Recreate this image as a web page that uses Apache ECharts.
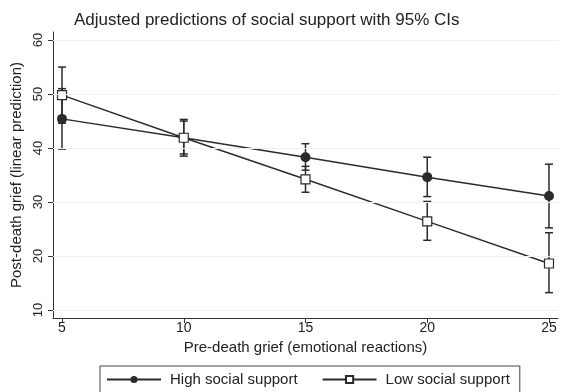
<!DOCTYPE html>
<html><head><meta charset="utf-8">
<script src="https://cdn.jsdelivr.net/npm/echarts@6/dist/echarts.min.js"></script>
<style>html,body{margin:0;padding:0;background:#fff}#c{width:568px;height:392px}</style>
</head><body><div id="c"></div>
<script>
const xValues = [5, 10, 15, 20, 25];
const highMean = [45.4, 41.9, 38.3, 34.6, 31.1];
const highLow  = [39.8, 38.5, 35.9, 31.0, 25.2];
const highUp   = [51.0, 45.3, 40.8, 38.3, 37.0];
const lowMean  = [49.8, 41.9, 34.2, 26.4, 18.6];
const lowLow   = [44.6, 38.9, 31.8, 22.9, 13.2];
const lowUp    = [55.0, 45.0, 36.6, 30.1, 24.3];
const xTicks = [5, 10, 15, 20, 25];
const yTicks = [10, 20, 30, 40, 50, 60];

const font = 'Liberation Sans, Arial, sans-serif';
const ink = '#2b2b2b';

function errData(lo, up) { return xValues.map((x, i) => [x, lo[i], up[i]]); }
function errRender(params, api) {
  const x = api.value(0);
  const p1 = api.coord([x, api.value(1)]);
  const p2 = api.coord([x, api.value(2)]);
  const hw = 4;
  const st = { stroke: ink, lineWidth: 1.5 };
  return { type: 'group', children: [
    { type: 'line', shape: { x1: p1[0], y1: p1[1], x2: p2[0], y2: p2[1] }, style: st },
    { type: 'line', shape: { x1: p1[0]-hw, y1: p1[1], x2: p1[0]+hw, y2: p1[1] }, style: st },
    { type: 'line', shape: { x1: p2[0]-hw, y1: p2[1], x2: p2[0]+hw, y2: p2[1] }, style: st }
  ]};
}

const chart = echarts.init(document.getElementById('c'), null, { renderer: 'canvas' });
chart.setOption({
  animation: false,
  backgroundColor: '#fff',
  textStyle: { fontFamily: font },
  title: {
    text: 'Adjusted predictions of social support with 95% CIs',
    left: 69, top: 7,
    textStyle: { fontFamily: font, fontSize: 17, fontWeight: 'normal', color: '#222' }
  },
  legend: {
    top: 366, left: 100,
    data: ['High social support', 'Low social support'],
    itemWidth: 54, itemHeight: 9, itemGap: 24,
    borderColor: '#444', borderWidth: 1, padding: [6, 10, 8, 6],
    textStyle: { fontFamily: font, fontSize: 15, color: '#222', padding: [0, 0, 0, 4] }
  },
  grid: { left: 53, right: 10, top: 32, bottom: 74 },
  xAxis: {
    type: 'value', min: 4.63, max: 25.37,
    name: 'Pre-death grief (emotional reactions)', nameLocation: 'middle', nameGap: 21,
    nameTextStyle: { fontFamily: font, fontSize: 15, color: '#222' },
    axisLine: { show: true, lineStyle: { color: '#333', width: 1 } },
    axisTick: { show: true, length: 5, lineStyle: { color: '#333' }, customValues: xTicks },
    axisLabel: { customValues: xTicks, fontSize: 14, color: '#222', margin: 3, fontFamily: font },
    splitLine: { show: false }
  },
  yAxis: {
    type: 'value', min: 8.5, max: 61.5,
    name: 'Post-death grief (linear prediction)', nameLocation: 'middle', nameGap: 22,
    nameTextStyle: { fontFamily: font, fontSize: 15, color: '#222' },
    axisLine: { show: true, lineStyle: { color: '#333', width: 1 } },
    axisTick: { show: true, length: 5, lineStyle: { color: '#333' }, customValues: yTicks },
    axisLabel: { customValues: yTicks, rotate: 90, fontSize: 13, color: '#222', margin: 8, fontFamily: font },
    splitLine: { show: false }
  },
  series: [
    {
      name: 'gridlines', type: 'line', data: [], silent: true,
      markLine: { silent: true, symbol: 'none', label: { show: false },
        lineStyle: { color: '#efefef', width: 1, type: 'solid' },
        data: yTicks.map(v => ({ yAxis: v })) }
    },
    { name: 'highErr', type: 'custom', renderItem: errRender, data: errData(highLow, highUp), z: 3 },
    { name: 'lowErr', type: 'custom', renderItem: errRender, data: errData(lowLow, lowUp), z: 3 },
    {
      name: 'High social support', type: 'line',
      data: xValues.map((x, i) => [x, highMean[i]]),
      symbol: 'circle', symbolSize: 10,
      lineStyle: { color: ink, width: 1.5 },
      itemStyle: { color: ink, borderColor: ink, borderWidth: 0 }, z: 4
    },
    {
      name: 'Low social support', type: 'line',
      data: xValues.map((x, i) => [x, lowMean[i]]),
      symbol: 'rect', symbolSize: 9,
      lineStyle: { color: ink, width: 1.5 },
      itemStyle: { color: '#fff', borderColor: ink, borderWidth: 1.2 }, z: 4
    }
  ]
});
</script></body></html>
